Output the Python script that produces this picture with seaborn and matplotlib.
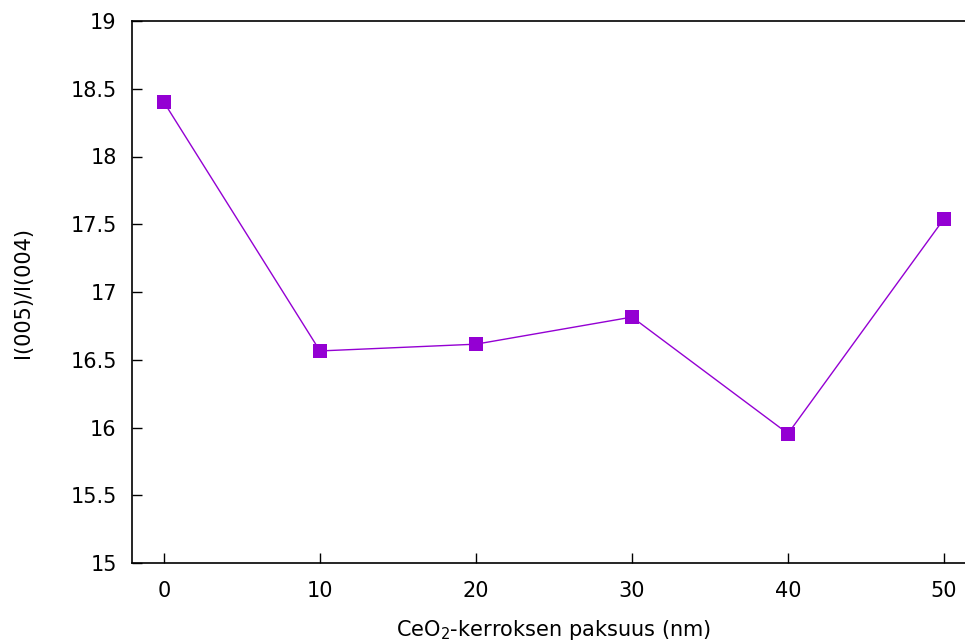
import matplotlib
matplotlib.use("Agg")
import matplotlib.pyplot as plt
import seaborn as sns
import pandas as pd
from matplotlib.ticker import FuncFormatter

thickness = [0, 10, 20, 30, 40, 50]
ratio = [18.40, 16.565, 16.615, 16.815, 15.955, 17.54]
x_ticks = [0, 10, 20, 30, 40, 50]
y_ticks = [15, 15.5, 16, 16.5, 17, 17.5, 18, 18.5, 19]

sns.set_style("ticks")
plt.rcParams['font.family'] = ['DejaVu Sans']
plt.rcParams['text.color'] = 'black'
plt.rcParams['axes.labelcolor'] = 'black'

df = pd.DataFrame({"x": thickness, "y": ratio})

fig = plt.figure(figsize=(9.65, 6.43), dpi=100)
ax = fig.add_axes([132/965, 1-563/643, (975.2-132)/965, (563-21)/643])

sns.lineplot(data=df, x="x", y="y", ax=ax, color="#9400D3", linewidth=1.0,
             marker="s", markersize=9.5, markeredgewidth=0, markerfacecolor="#9400D3")

ax.set_xlim(-2.05, 52)
ax.set_ylim(15, 19)
ax.set_xticks(x_ticks)
ax.set_yticks(y_ticks)
ax.yaxis.set_major_formatter(FuncFormatter(lambda v, p: f"{v:g}"))
ax.tick_params(direction="in", length=7, width=1, labelsize=15, colors="black")
ax.tick_params(axis="x", pad=13)
ax.tick_params(axis="y", pad=11)
ax.set_xlabel("CeO$_2$-kerroksen paksuus (nm)", fontsize=15, labelpad=12, color="black")
ax.set_ylabel("I(005)/I(004)", fontsize=15, color="black")
ax.yaxis.set_label_coords((33 - 132) / 843.2, 0.5)
for s in ax.spines.values():
    s.set_color("black")
    s.set_linewidth(1.2)

fig.savefig("out.png", dpi=100)
